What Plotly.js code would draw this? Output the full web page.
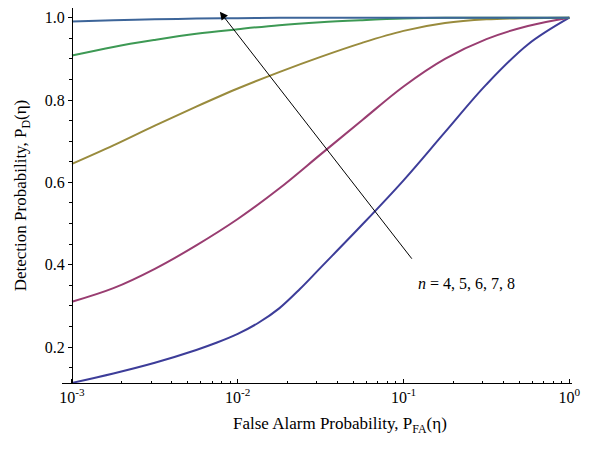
<!DOCTYPE html>
<html>
<head>
<meta charset="utf-8">
<script src="https://cdn.plot.ly/plotly-3.0.1.min.js"></script>
<style>html,body{margin:0;padding:0;background:#fff;}#chart{width:593px;height:449px;}</style>
</head>
<body>
<div id="chart"></div>
<script>
// False alarm probability sample points
const pfa = [0.001, 0.001778, 0.003162, 0.005623, 0.01, 0.01778, 0.03162, 0.05623, 0.1, 0.1778, 0.3162, 0.5623, 1.0];
// n = 4 is sampled more finely where it bends
const pfaN4 = [0.001, 0.001778, 0.003162, 0.005623, 0.0075, 0.01, 0.01334, 0.01778, 0.02371, 0.03162, 0.05623, 0.1, 0.1778, 0.3162, 0.5623, 1.0];
// Detection probability for each n
const pdN4 = [0.113, 0.136, 0.162, 0.193, 0.211, 0.232, 0.259, 0.294, 0.341, 0.393, 0.497, 0.605, 0.722, 0.838, 0.935, 1.0];
const pdN5 = [0.310, 0.343, 0.390, 0.447, 0.511, 0.585, 0.668, 0.751, 0.833, 0.900, 0.948, 0.980, 1.0];
const pdN6 = [0.645, 0.690, 0.738, 0.784, 0.828, 0.868, 0.905, 0.939, 0.968, 0.987, 0.996, 0.999, 1.0];
const pdN7 = [0.908, 0.929, 0.946, 0.961, 0.972, 0.982, 0.989, 0.994, 0.998, 1.0, 1.0, 1.0, 1.0];
const pdN8 = [0.991, 0.994, 0.996, 0.998, 0.999, 1.0, 1.0, 1.0, 1.0, 1.0, 1.0, 1.0, 1.0];
const seriesNames = ['n = 4', 'n = 5', 'n = 6', 'n = 7', 'n = 8'];
const xTickVals = [0.001, 0.01, 0.1, 1];
const xTickText = ['10<sup>-3</sup>', '10<sup>-2</sup>', '10<sup>-1</sup>', '10<sup>0</sup>'];
const xMinorVals = [0.002,0.003,0.004,0.005,0.006,0.007,0.008,0.009,
                    0.02,0.03,0.04,0.05,0.06,0.07,0.08,0.09,
                    0.2,0.3,0.4,0.5,0.6,0.7,0.8,0.9];

const colors = ['#3d3d99', '#993d71', '#998b3d', '#3d9954', '#3d6599'];
const allX = [pfaN4, pfa, pfa, pfa, pfa];
const allPd = [pdN4, pdN5, pdN6, pdN7, pdN8];

const traces = allPd.map((ys, i) => ({
  x: allX[i], y: ys, type: 'scatter', mode: 'lines', name: seriesNames[i],
  line: {color: colors[i], width: 2, shape: 'spline', smoothing: 1},
  hoverinfo: 'skip'
}));

const font = {family: '"Liberation Serif", "Times New Roman", serif', color: '#000'};

const layout = {
  width: 593, height: 449,
  margin: {l: 62, r: 21, t: 8, b: 66},
  paper_bgcolor: '#fff', plot_bgcolor: '#fff',
  showlegend: false,
  font: Object.assign({size: 16}, font),
  xaxis: {
    type: 'log', range: [-3.06, 0.016],
    tickmode: 'array', tickvals: xTickVals, ticktext: xTickText,
    ticks: 'inside', ticklen: 4, tickcolor: '#000', tickwidth: 1,
    showline: true, linecolor: '#000', linewidth: 1,
    showgrid: false, zeroline: false,
    tickfont: Object.assign({size: 16}, font),
    minor: {tickmode: 'array', tickvals: xMinorVals, ticks: 'inside', ticklen: 2.5, tickcolor: '#000', showgrid: false}
  },
  yaxis: {
    range: [0.1127, 1.0236],
    anchor: 'free', position: 0.0196,
    tick0: 0, dtick: 0.2, tickformat: '.1f',
    ticks: 'outside', ticklen: 4, tickcolor: '#000', tickwidth: 1,
    showline: true, linecolor: '#000', linewidth: 1,
    showgrid: false, zeroline: false,
    tickfont: Object.assign({size: 16}, font),
    minor: {dtick: 0.05, ticks: 'outside', ticklen: 2.5, tickcolor: '#000', showgrid: false},
    title: {text: 'Detection Probability, P<sub>D</sub>(η)', font: Object.assign({size: 17}, font), standoff: 12}
  },
  annotations: [
    {
      x: Math.log10(0.0078), y: 1.0146, xref: 'x', yref: 'y',
      ax: Math.log10(0.114), ay: 0.411, axref: 'x', ayref: 'y',
      text: '', showarrow: true, arrowhead: 2, arrowsize: 1.6, arrowwidth: 1, arrowcolor: '#000'
    },
    {
      x: (466 - 62) / 510, y: (382.7 - 283) / 374.7, xref: 'paper', yref: 'paper',
      xanchor: 'center', yanchor: 'middle',
      text: '<i>n</i> = 4, 5, 6, 7, 8',
      showarrow: false, font: Object.assign({size: 16}, font)
    },
    {
      x: (340 - 62) / 510, y: -(425 - 382.7) / 374.7, xref: 'paper', yref: 'paper',
      xanchor: 'center', yanchor: 'middle',
      text: 'False Alarm Probability, P<sub>FA</sub>(η)',
      showarrow: false, font: Object.assign({size: 17}, font)
    }
  ]
};

Plotly.newPlot('chart', traces, layout, {displayModeBar: false, staticPlot: true});
</script>
</body>
</html>
